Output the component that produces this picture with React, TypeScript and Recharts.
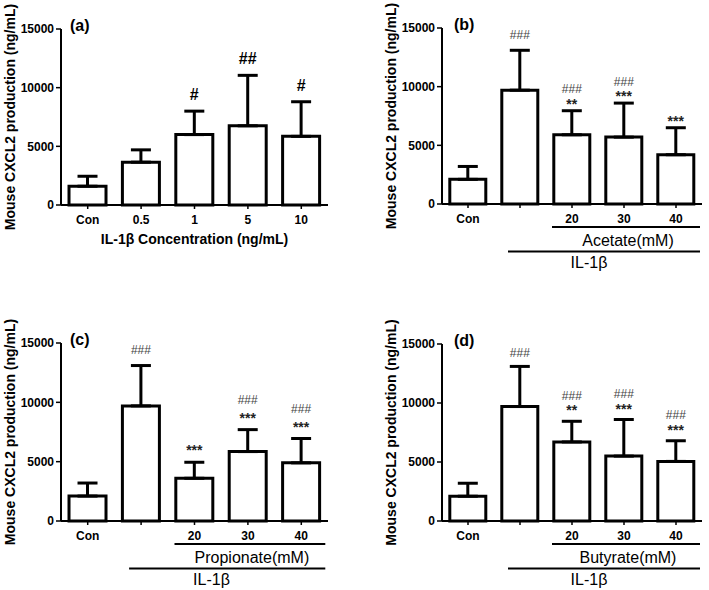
import React from 'react';
import { ComposedChart, Bar, XAxis, YAxis, ErrorBar, LabelList, Label } from 'recharts';

const FONT = '"Liberation Sans", Arial, Helvetica, sans-serif';
const Y_TICKS = [0, 5000, 10000, 15000];
const Y_TITLE = 'Mouse CXCL2 production (ng/mL)';

// Panel (a)
const catsA = ['Con', '0.5', '1', '5', '10'];
const meanA = [1600, 3650, 6000, 6750, 5850];
const upperA = [2450, 4700, 8000, 11050, 8800];
const hashA = ['', '', '#', '##', '#'];
const starA = ['', '', '', '', ''];

// Panels (b)-(d)
const catsT = ['Con', '', '20', '30', '40'];

const meanB = [2100, 9700, 5900, 5700, 4200];
const upperB = [3200, 13100, 7950, 8600, 6500];
const hashB = ['', '###', '###', '###', ''];
const starB = ['', '', '**', '***', '***'];

const meanC = [2100, 9700, 3600, 5850, 4900];
const upperC = [3200, 13100, 4950, 7700, 6950];
const hashC = ['', '###', '', '###', '###'];
const starC = ['', '', '***', '***', '***'];

const meanD = [2100, 9700, 6700, 5500, 5050];
const upperD = [3200, 13100, 8450, 8600, 6800];
const hashD = ['', '###', '###', '###', '###'];
const starD = ['', '', '**', '***', '***'];

type PanelProps = {
  letter: string;
  cats: string[];
  means: number[];
  uppers: number[];
  hashes: string[];
  stars: string[];
  left: number;
  top: number;
  w: number;
  h: number;
  plotL: number;
  plotR: number;
  plotT: number;
  plotB: number;
  treatment?: string;
  xTitle?: string;
  bigHash?: boolean;
  starOff: number;
  hashOff: number;
  hashAloneOff: number;
};

const YAXIS_W = 50;
const XAXIS_H = 30;

function Panel(p: PanelProps) {
  const data = p.cats.map((c, i) => ({
    cat: c,
    mean: p.means[i],
    err: [0, p.uppers[i] - p.means[i]],
  }));
  const step = (p.plotR - p.plotL) / p.cats.length;
  const B = p.plotB;

  const renderTick = (props: any) => {
    const { x, payload } = props;
    const index = props.index ?? payload?.index;
    return (
      <g>
        <text x={x} y={B + 19} textAnchor="middle" fontSize={12} fontWeight="bold" fontFamily={FONT} fill="#000">
          {payload.value}
        </text>
        {p.treatment && index === 2 && (
          <g>
            <line x1={x - 20} x2={x + 2 * step + 24} y1={B + 23} y2={B + 23} stroke="#000" strokeWidth={2} />
            <text x={x + step + 4} y={B + 42} textAnchor="middle" fontSize={16} fontFamily={FONT} fill="#000">
              {p.treatment}
            </text>
            <text x={x + 17} y={B + 64} textAnchor="middle" fontSize={16} fontFamily={FONT} fill="#000">
              IL-1β
            </text>
          </g>
        )}
        {p.treatment && index === 1 && (
          <line x1={x - 12} x2={x + 3 * step + 24} y1={B + 47.5} y2={B + 47.5} stroke="#000" strokeWidth={2} />
        )}
        {p.xTitle && index === 2 && (
          <text x={x} y={B + 39} textAnchor="middle" fontSize={14} fontWeight="bold" fontFamily={FONT} fill="#000">
            {p.xTitle}
          </text>
        )}
      </g>
    );
  };

  const renderAnnot = (props: any) => {
    const vb = props.viewBox || props;
    const x = vb.x ?? props.x;
    const y = vb.y ?? props.y;
    const width = vb.width ?? props.width;
    const height = vb.height ?? props.height;
    const i = props.index;
    if (i == null) return null;
    const mean = p.means[i];
    const ppu = height / mean;
    const capY = y - (p.uppers[i] - mean) * ppu;
    const cx = x + width / 2;
    const hs = p.hashes[i];
    const st = p.stars[i];
    const out: any[] = [];
    if (st) {
      out.push(
        <text key="s" x={cx} y={capY - p.starOff + 7} textAnchor="middle" fontSize={14} fontWeight="bold" fontFamily={FONT} fill="#222">
          {st}
        </text>
      );
    }
    if (hs) {
      const off = st ? p.hashOff : p.hashAloneOff;
      if (p.bigHash) {
        out.push(
          <text key="h" x={cx} y={capY - off + 6} textAnchor="middle" fontSize={16} fontWeight="bold" fontFamily={FONT} fill="#000">
            {hs}
          </text>
        );
      } else {
        out.push(
          <text key="h" x={cx} y={capY - off + 4.5} textAnchor="middle" fontSize={12} fontFamily={FONT} fill="#444">
            {hs}
          </text>
        );
      }
    }
    return <g>{out}</g>;
  };

  const yCenter = (p.plotT + p.plotB) / 2;
  const labelX = p.plotL - 51;

  return (
    <div style={{ position: 'absolute', left: p.left, top: p.top, width: p.w, height: p.h }}>
      <ComposedChart
        width={p.w}
        height={p.h}
        data={data}
        margin={{ top: p.plotT, bottom: p.h - p.plotB - XAXIS_H, left: p.plotL - YAXIS_W, right: p.w - p.plotR }}
        barCategoryGap="15%"
      >
        <XAxis
          dataKey="cat"
          interval={0}
          axisLine={{ stroke: '#000', strokeWidth: 2 }}
          tickLine={{ stroke: '#000', strokeWidth: 1.5 }}
          tickSize={4}
          tick={renderTick}
          height={XAXIS_H}
        />
        <YAxis
          width={YAXIS_W}
          domain={[0, 15000]}
          ticks={Y_TICKS}
          interval={0}
          axisLine={{ stroke: '#000', strokeWidth: 2 }}
          tickLine={{ stroke: '#000', strokeWidth: 1.5 }}
          tickSize={5}
          tickMargin={2}
          tick={{ fontSize: 12, fontWeight: 'bold', fontFamily: FONT, fill: '#000' }}
        >
          <Label
            content={() => (
              <g>
                <text
                  x={labelX}
                  y={yCenter}
                  transform={`rotate(-90, ${labelX}, ${yCenter})`}
                  textAnchor="middle"
                  dominantBaseline="central"
                  fontSize={14}
                  fontWeight="bold"
                  fontFamily={FONT}
                  fill="#000"
                >
                  {Y_TITLE}
                </text>
                <text
                  x={p.plotL + (p.letter === '(a)' || p.letter === '(c)' ? 9 : 12)}
                  y={p.plotT + 2}
                  fontSize={16}
                  fontWeight="bold"
                  fontFamily={FONT}
                  fill="#000"
                >
                  {p.letter}
                </text>
              </g>
            )}
          />
        </YAxis>
        <Bar dataKey="mean" fill="#fff" stroke="#000" strokeWidth={3} isAnimationActive={false}>
          <ErrorBar dataKey="err" width={10} stroke="#000" strokeWidth={3} direction="y" isAnimationActive={false} />
          <LabelList dataKey="mean" content={renderAnnot} />
        </Bar>
      </ComposedChart>
    </div>
  );
}

export default function App() {
  return (
    <div style={{ position: 'absolute', left: 0, top: 0, width: 709, height: 590, background: '#fff' }}>
      <Panel
        letter="(a)"
        cats={catsA}
        means={meanA}
        uppers={upperA}
        hashes={hashA}
        stars={starA}
        left={0}
        top={0}
        w={354}
        h={290}
        plotL={61}
        plotR={328}
        plotT={29}
        plotB={205}
        xTitle="IL-1β  Concentration (ng/mL)"
        bigHash
        starOff={12}
        hashOff={26}
        hashAloneOff={17}
      />
      <Panel
        letter="(b)"
        cats={catsT}
        means={meanB}
        uppers={upperB}
        hashes={hashB}
        stars={starB}
        left={354}
        top={0}
        w={355}
        h={290}
        plotL={88}
        plotR={348}
        plotT={28}
        plotB={204}
        treatment="Acetate(mM)"
        starOff={9}
        hashOff={22}
        hashAloneOff={16}
      />
      <Panel
        letter="(c)"
        cats={catsT}
        means={meanC}
        uppers={upperC}
        hashes={hashC}
        stars={starC}
        left={0}
        top={290}
        w={354}
        h={300}
        plotL={61}
        plotR={328}
        plotT={53}
        plotB={231}
        treatment="Propionate(mM)"
        starOff={14}
        hashOff={30}
        hashAloneOff={16}
      />
      <Panel
        letter="(d)"
        cats={catsT}
        means={meanD}
        uppers={upperD}
        hashes={hashD}
        stars={starD}
        left={354}
        top={290}
        w={355}
        h={300}
        plotL={88}
        plotR={348}
        plotT={54}
        plotB={231}
        treatment="Butyrate(mM)"
        starOff={13}
        hashOff={26}
        hashAloneOff={14}
      />
    </div>
  );
}
